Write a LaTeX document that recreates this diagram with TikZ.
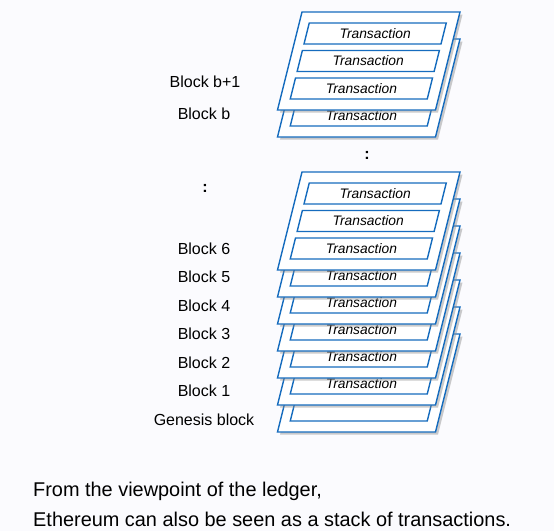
\documentclass[tikz,border=0pt]{standalone}
\usepackage{fontspec}
\setmainfont{Liberation Sans}
\usepackage{tikz}
\usetikzlibrary{shadows}
\definecolor{LedgerBlue}{RGB}{22,108,190}
\definecolor{PageTint}{RGB}{251,251,254}

\tikzset{
	plane/.style={draw=LedgerBlue, line width=1.4pt, fill=white,
		drop shadow={shadow xshift=2.5pt, shadow yshift=-2.5pt, fill=black!45, opacity=0.45}},
	txbox/.style={draw=LedgerBlue, line width=1.4pt, fill=white},
	txtext/.style={font=\fontsize{13.8}{15}\selectfont\itshape, anchor=base, inner sep=0pt},
	blocklabel/.style={font=\fontsize{16}{18}\selectfont, anchor=base, inner sep=0pt},
	caption/.style={font=\fontsize{19.9}{22}\selectfont, anchor=base west, inner sep=0pt}
}

% one block of the ledger: #1 name, #2 top edge, #3 text of its boxes
\newcommand{\ledgerblock}[3]{%
	\draw[plane] (302,#2) -- (460,#2) -- (435.5,#2+98) -- (277.5,#2+98) -- cycle;
	\foreach \dy [count=\k] in {11,38.5,66}{
		\draw[txbox] ({312-0.25*\dy},{#2+\dy}) -- ++(137,0) -- ++(-5.25,21) -- ++(-137,0) -- cycle;
		\node[txtext] (#1-tx\k) at ({377.9-0.25*\dy},{#2+\dy+15.3}) {#3};
	}
}

\begin{document}
\begin{tikzpicture}[x=1pt, y=-1pt]
	\fill[PageTint] (0,0) rectangle (554,531);
	\useasboundingbox (0,0) rectangle (554,531);

	% lower stack, genesis first
	\ledgerblock{genesis}{334}{}
	\foreach \i [evaluate=\i as \top using 334-27*\i] in {1,...,6}{
		\ledgerblock{block\i}{\top}{Transaction}
	}

	% upper stack
	\ledgerblock{blockb}{39}{Transaction}
	\ledgerblock{blockbb}{12}{Transaction}

	% labels
	\node[blocklabel] (lbl-bb) at (205,87.7) {Block b+1};
	\node[blocklabel] (lbl-b) at (204,119.3) {Block b};
	\foreach \name [count=\i] in {Block 6, Block 5, Block 4, Block 3, Block 2, Block 1, Genesis block}
		\node[blocklabel] (lbl-\i) at (204,{254+28.5*(\i-1)}) {\name};

	\node[font=\fontsize{16}{18}\selectfont\bfseries] (gap-left) at (205,188) {:};
	\node[font=\fontsize{16}{18}\selectfont\bfseries] (gap-right) at (367,155) {:};

	\node[caption] (cap1) at (33,496.5) {From the viewpoint of the ledger,};
	\node[caption] (cap2) at (33,526.5) {Ethereum can also be seen as a stack of transactions.};
\end{tikzpicture}
\end{document}
